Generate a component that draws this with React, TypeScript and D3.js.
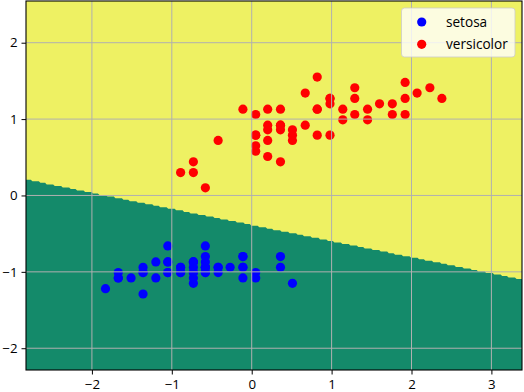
import React, { useEffect, useRef } from "react";
import * as d3 from "d3";

// standardized iris features: sepal length (x) and petal length (y)
const setosaX = [-0.58, -0.89, -1.2, -1.36, -0.73, -0.11, -1.36, -0.73, -1.67, -0.89, -0.11, -1.05, -1.05, -1.83, 0.51, 0.36, -0.11, -0.58, 0.36, -0.58, -0.11, -0.58, -1.36, -0.58, -1.05, -0.73, -0.73, -0.42, -0.42, -1.2, -1.05, -0.11, -0.42, 0.05, -0.89, -0.73, 0.05, -0.89, -1.67, -0.58, -0.73, -1.51, -1.67, -0.73, -0.58, -1.05, -0.58, -1.36, -0.27, -0.73];
const setosaY = [-1.01, -1.01, -1.08, -0.94, -1.01, -0.8, -1.01, -0.94, -1.01, -0.94, -0.94, -0.87, -1.01, -1.22, -1.15, -0.94, -1.08, -1.01, -0.8, -0.94, -0.8, -0.94, -1.29, -0.8, -0.66, -0.87, -0.87, -0.94, -1.01, -0.87, -0.87, -0.94, -0.94, -1.01, -0.94, -1.15, -1.08, -1.01, -1.08, -0.94, -1.08, -1.08, -1.08, -0.87, -0.66, -1.01, -0.87, -1.01, -0.94, -1.01];
const versicolorX = [2.38, 1.45, 2.23, 0.05, 1.6, 0.36, 1.29, -0.89, 1.76, -0.42, -0.73, 0.67, 0.82, 0.98, 0.2, 1.92, 0.2, 0.51, 1.14, 0.2, 0.67, 0.98, 1.29, 0.98, 1.45, 1.76, 2.07, 1.92, 0.82, 0.36, 0.05, 0.05, 0.51, 0.82, -0.11, 0.82, 1.92, 1.29, 0.2, 0.05, 0.05, 0.98, 0.51, -0.73, 0.2, 0.36, 0.36, 1.14, -0.58, 0.36];
const versicolorY = [1.27, 1.13, 1.41, 0.79, 1.2, 1.13, 1.27, 0.3, 1.2, 0.72, 0.44, 0.92, 0.79, 1.27, 0.51, 1.06, 1.13, 0.86, 1.13, 0.72, 1.34, 0.79, 1.41, 1.27, 0.99, 1.06, 1.34, 1.48, 1.13, 0.44, 0.65, 0.58, 0.72, 1.55, 1.13, 1.13, 1.27, 1.06, 0.86, 0.79, 1.06, 1.2, 0.79, 0.3, 0.92, 0.92, 0.92, 0.99, 0.1, 0.86];

const classNames = ["setosa", "versicolor"];
const classColors = ["#0000ff", "#ff0000"];
const regionColors = ["#148a6a", "#eef163"];

const xTicks = [-2, -1, 0, 1, 2, 3];
const yTicks = [-2, -1, 0, 1, 2];

// learned weights: bias, w_x, w_y
const weights = [0.387, 0.211, 1.0];
const xLimits = [-2.825, 3.383];
const yLimits = [-2.285, 2.546];
const resolution = 0.02;

const W = 524, H = 392;
const margin = { top: 1, right: 2, bottom: 22, left: 26 };

export default function App() {
  const ref = useRef<SVGSVGElement>(null);

  useEffect(() => {
    const svg = d3.select(ref.current);
    svg.selectAll("*").remove();

    const x = d3.scaleLinear().domain(xLimits).range([margin.left, W - margin.right]);
    const y = d3.scaleLinear().domain(yLimits).range([H - margin.bottom, margin.top]);

    svg.append("defs").append("clipPath").attr("id", "plotclip")
      .append("rect")
      .attr("x", margin.left).attr("y", margin.top)
      .attr("width", W - margin.left - margin.right)
      .attr("height", H - margin.top - margin.bottom);

    const plot = svg.append("g").attr("clip-path", "url(#plotclip)");

    // background region (class 0)
    plot.append("rect")
      .attr("x", margin.left).attr("y", margin.top)
      .attr("width", W - margin.left - margin.right)
      .attr("height", H - margin.top - margin.bottom)
      .attr("fill", regionColors[0]);

    // decision surface on a grid
    const nx = Math.ceil((xLimits[1] - xLimits[0]) / resolution) + 1;
    const ny = Math.ceil((yLimits[1] - yLimits[0]) / resolution) + 1;
    const values: number[] = new Array(nx * ny);
    for (let j = 0; j < ny; j++) {
      for (let i = 0; i < nx; i++) {
        const gx = xLimits[0] + i * resolution;
        const gy = yLimits[0] + j * resolution;
        const z = weights[0] + weights[1] * gx + weights[2] * gy;
        values[j * nx + i] = z >= 0 ? 1 : -1;
      }
    }
    const contour = d3.contours().size([nx, ny]).thresholds([0])(values)[0];
    const toPx = (p: number[]) =>
      [x(xLimits[0] + (p[0] - 0.5) * resolution), y(yLimits[0] + (p[1] - 0.5) * resolution)];
    const d = contour.coordinates.map(poly =>
      poly.map(ring => "M" + ring.map(p => toPx(p).join(",")).join("L") + "Z").join("")
    ).join("");
    plot.append("path").attr("d", d).attr("fill", regionColors[1]);

    // scatter
    const sets = [
      { xs: setosaX, ys: setosaY },
      { xs: versicolorX, ys: versicolorY },
    ];
    sets.forEach((s, k) => {
      plot.append("g").selectAll("circle")
        .data(s.xs.map((v, i) => [v, s.ys[i]]))
        .enter().append("circle")
        .attr("cx", p => x(p[0]))
        .attr("cy", p => y(p[1]))
        .attr("r", 4.6)
        .attr("fill", classColors[k]);
    });

    // grid
    plot.append("g").selectAll("line")
      .data(xTicks).enter().append("line")
      .attr("x1", t => x(t)).attr("x2", t => x(t))
      .attr("y1", margin.top).attr("y2", H - margin.bottom)
      .attr("stroke", "#b0b0b0").attr("stroke-width", 1);
    plot.append("g").selectAll("line")
      .data(yTicks).enter().append("line")
      .attr("y1", t => y(t)).attr("y2", t => y(t))
      .attr("x1", margin.left).attr("x2", W - margin.right)
      .attr("stroke", "#b0b0b0").attr("stroke-width", 1);

    // axes
    const font = "'Open Sans', 'DejaVu Sans', sans-serif";
    const fmt = d3.format("d");
    const xAxis = svg.append("g")
      .attr("transform", `translate(0,${H - margin.bottom})`)
      .call(d3.axisBottom(x).tickValues(xTicks).tickFormat(fmt).tickSize(4.5).tickPadding(5.5).tickSizeOuter(0));
    const yAxis = svg.append("g")
      .attr("transform", `translate(${margin.left},0)`)
      .call(d3.axisLeft(y).tickValues(yTicks).tickFormat(fmt).tickSize(4.5).tickPadding(4).tickSizeOuter(0));
    [xAxis, yAxis].forEach(a => {
      a.select(".domain").remove();
      a.selectAll("text").attr("font-family", font).attr("font-size", 13.3).attr("fill", "#000");
      a.selectAll("line").attr("stroke", "#000");
    });

    // frame
    svg.append("rect")
      .attr("x", margin.left).attr("y", margin.top)
      .attr("width", W - margin.left - margin.right)
      .attr("height", H - margin.top - margin.bottom)
      .attr("fill", "none").attr("stroke", "#000").attr("stroke-width", 1.1);

    // legend
    const lg = svg.append("g");
    lg.append("rect")
      .attr("x", 401.5).attr("y", 8).attr("width", 113.5).attr("height", 49).attr("rx", 3)
      .attr("fill", "#fff").attr("fill-opacity", 0.8)
      .attr("stroke", "#cccccc").attr("stroke-opacity", 0.8);
    classNames.forEach((name, k) => {
      const cy = 22 + k * 22.3;
      lg.append("circle").attr("cx", 421.7).attr("cy", cy).attr("r", 4.6).attr("fill", classColors[k]);
      lg.append("text").attr("x", 446).attr("y", cy).attr("dy", "0.35em")
        .attr("font-family", font).attr("font-size", 13.6).attr("fill", "#000")
        .text(name);
    });
  }, []);

  return (
    <svg ref={ref} width={W} height={H}
      style={{ position: "absolute", left: 0, top: 0, background: "#fff" }} />
  );
}
